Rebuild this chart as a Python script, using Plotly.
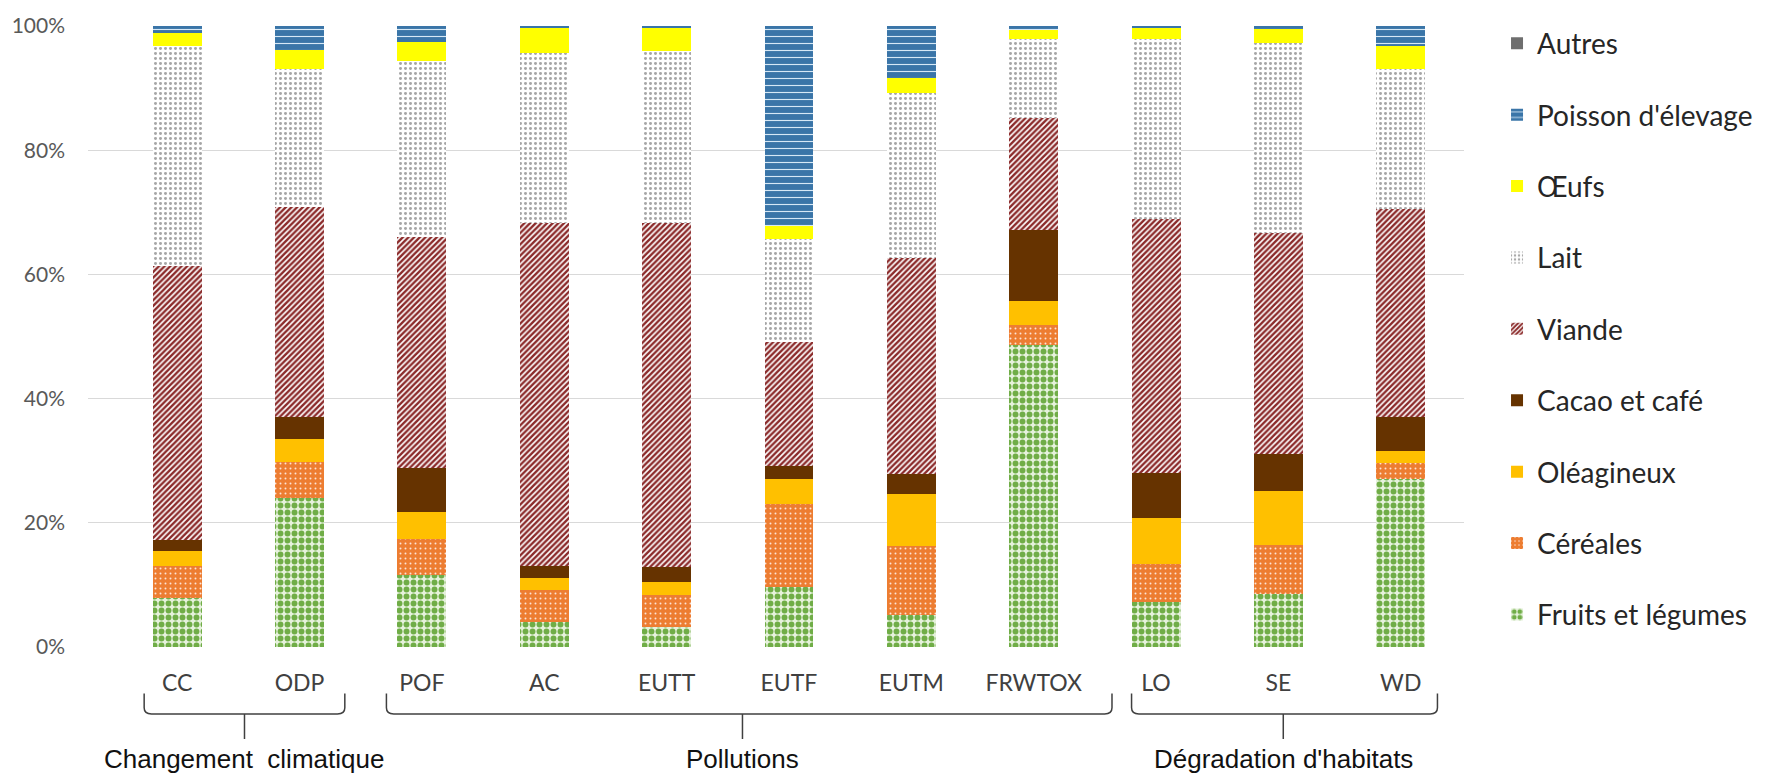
import plotly.graph_objects as go

# Impact categories (x axis) and their grouping
categories = ["CC", "ODP", "POF", "AC", "EUTT", "EUTF", "EUTM", "FRWTOX", "LO", "SE", "WD"]
groups = ["Changement\u00a0 climatique", "Pollutions", "Dégradation d'habitats"]

# Share of each food group in every impact category (%)
fruits_legumes = [7.9, 24.0, 11.6, 4.1, 3.3, 9.6, 5.2, 48.6, 7.2, 8.6, 27.1]
cereales       = [5.2, 5.8, 5.8, 5.0, 5.1, 13.4, 11.0, 3.2, 6.2, 7.8, 2.6]
oleagineux     = [2.3, 3.7, 4.3, 2.0, 2.0, 4.1, 8.4, 3.9, 7.3, 8.8, 1.8]
cacao_cafe     = [1.8, 3.5, 7.1, 2.0, 2.5, 2.0, 3.2, 11.5, 7.3, 5.8, 5.6]
viande         = [44.1, 33.9, 37.2, 55.2, 55.4, 20.0, 34.9, 18.0, 41.0, 35.7, 33.4]
lait           = [35.4, 22.1, 28.4, 27.4, 27.6, 16.6, 26.5, 12.7, 28.9, 30.6, 22.5]
oeufs          = [2.1, 3.2, 3.1, 4.1, 3.9, 2.1, 2.5, 1.4, 1.8, 2.2, 3.8]
poisson        = [1.2, 3.8, 2.5, 0.2, 0.2, 32.2, 8.3, 0.7, 0.3, 0.5, 3.2]
autres         = [0, 0, 0, 0, 0, 0, 0, 0, 0, 0, 0]

# Y ticks (%)
y_ticks = [0, 20, 40, 60, 80, 100]

# Group braces: (left, right, centre) in category units
brace_spans = [(-0.27, 1.37, 0.55), (1.71, 7.64, 4.62), (7.80, 10.30, 9.04)]

x_idx = list(range(len(categories)))

series = [
    ("Fruits et légumes", fruits_legumes, dict(shape=".", bgcolor="#E6F2DC", fgcolor="#70AD47", size=7, solidity=0.55)),
    ("Céréales", cereales, dict(shape=".", bgcolor="#ED7D31", fgcolor="#FCE4D6", size=5, solidity=0.12)),
    ("Oléagineux", oleagineux, None, "#FFC000"),
    ("Cacao et café", cacao_cafe, None, "#663300"),
    ("Viande", viande, dict(shape="/", bgcolor="#FFFFFF", fgcolor="#8B2A2A", size=4, solidity=0.6)),
    ("Lait", lait, dict(shape=".", bgcolor="#FFFFFF", fgcolor="#A6A6A6", size=5, solidity=0.28)),
    ("Œufs", oeufs, None, "#FFFF00"),
    ("Poisson d'élevage", poisson, dict(shape="-", bgcolor="#3A75A8", fgcolor="#D6E8F6", size=7, solidity=0.16)),
    ("Autres", autres, None, "#6E6E6E"),
]

fig = go.Figure()
n = len(series)
for i, s in enumerate(series):
    name, vals, pattern = s[0], s[1], s[2]
    if pattern is not None:
        marker = dict(color=pattern["bgcolor"], line=dict(width=0),
                      pattern=dict(fillmode="replace", **pattern))
    else:
        marker = dict(color=s[3], line=dict(width=0))
    fig.add_trace(go.Bar(
        x=x_idx, y=vals, name=name, marker=marker, width=0.4,
        legendgroup=f"g{i}", legendrank=n - i,
    ))

# Braces grouping the categories, with their titles
shapes = []
annotations = []
y_top, y_mid, y_bot = -0.075, -0.108, -0.148
for (x0, x1, xc), gname in zip(brace_spans, groups):
    d = 0.06
    path = (f"M {x0},{y_top} L {x0},{y_mid + 0.01} Q {x0},{y_mid} {x0 + d},{y_mid} "
            f"L {x1 - d},{y_mid} Q {x1},{y_mid} {x1},{y_mid + 0.01} L {x1},{y_top} "
            f"M {xc},{y_mid} L {xc},{y_bot}")
    shapes.append(dict(type="path", path=path, xref="x", yref="paper",
                       line=dict(color="#404040", width=1.5)))
    annotations.append(dict(
        x=xc, y=-0.1805, xref="x", yref="paper", text=gname, showarrow=False,
        xanchor="center", yanchor="middle",
        font=dict(family="Liberation Sans, Arial", size=26, color="#111111"),
    ))

fig.update_layout(
    width=1770, height=773,
    margin=dict(l=86, r=303, t=21, b=126),
    paper_bgcolor="white", plot_bgcolor="white",
    barmode="stack",
    showlegend=True,
    legend=dict(
        x=1.024, xanchor="left", y=1.012, yanchor="top",
        traceorder="grouped", tracegroupgap=32, maxheight=773,
        font=dict(family="Lato", size=28, color="#262626"),
        bgcolor="rgba(0,0,0,0)",
    ),
    xaxis=dict(
        range=[-0.729, 10.517], tickvals=x_idx, ticktext=categories,
        showgrid=False, zeroline=False, showline=False, ticks="",
        ticklabelstandoff=20,
        tickfont=dict(family="Lato", size=23, color="#404040"),
    ),
    yaxis=dict(
        range=[0, 100], tickvals=y_ticks, ticktext=[f"{v}%" for v in y_ticks],
        showgrid=True, gridcolor="#D9D9D9", gridwidth=1, zeroline=False,
        showline=False, ticks="", ticklabelstandoff=22,
        tickfont=dict(family="Lato", size=21, color="#595959"),
    ),
    annotations=annotations,
    shapes=shapes,
)

fig.write_html("out.html")
